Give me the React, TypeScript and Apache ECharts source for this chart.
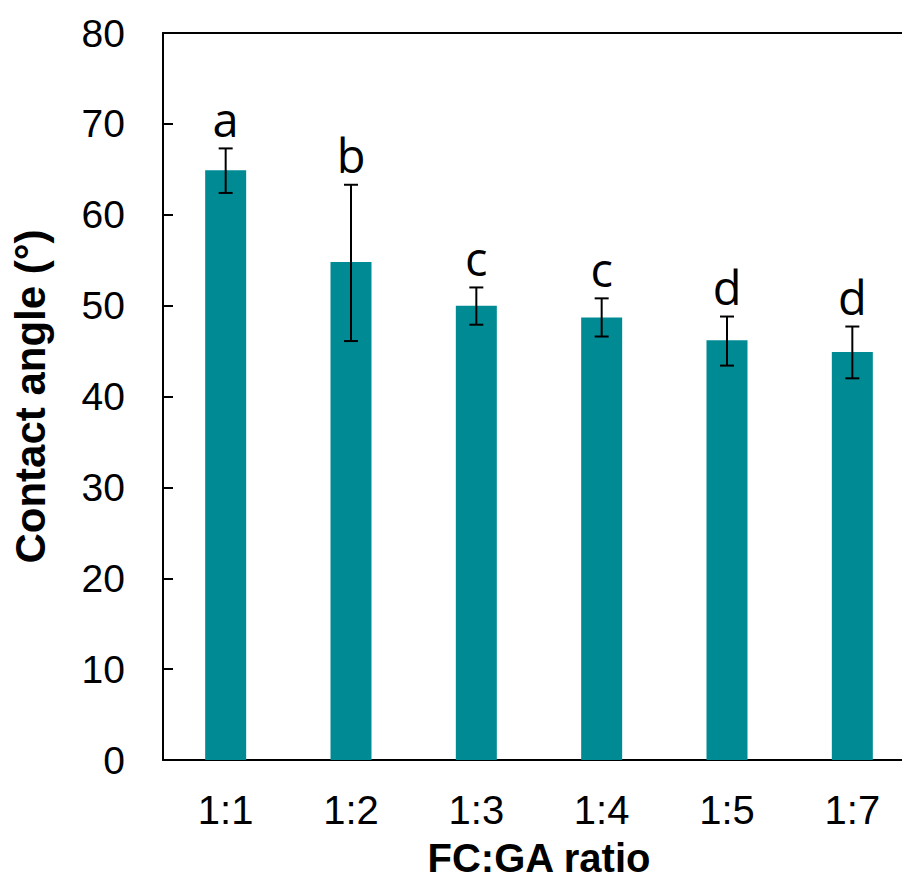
import React, { useEffect, useRef } from "react";
import * as echarts from "echarts";

const categories = ["1:1", "1:2", "1:3", "1:4", "1:5", "1:7"];
const means = [64.9, 54.8, 50.0, 48.7, 46.2, 44.9];
const errLow = [62.4, 46.1, 47.9, 46.6, 43.4, 42.0];
const errHigh = [67.3, 63.3, 52.0, 50.8, 48.8, 47.7];
const letters = ["a", "b", "c", "c", "d", "d"];
const yTicks = [0, 10, 20, 30, 40, 50, 60, 70, 80];

export default function App() {
  const ref = useRef<HTMLDivElement>(null);
  useEffect(() => {
    if (!ref.current) return;
    const chart = echarts.init(ref.current, null, { renderer: "svg" });
    const errData = categories.map((_, i) => [i, errLow[i], errHigh[i], letters[i]]);
    const axisLine = { show: true, lineStyle: { color: "#000", width: 2 } };
    chart.setOption({
      animation: false,
      backgroundColor: "#fff",
      grid: {
        left: 163,
        top: 33,
        right: -13,
        height: 727,
        show: false,
        containLabel: false,
        outerBoundsMode: "none",
      },
      xAxis: [
        {
          type: "category",
          data: categories,
          axisLine,
          axisTick: { show: false },
          axisLabel: {
            fontFamily: "Liberation Sans",
            fontSize: 40,
            color: "#000",
            margin: 30,
          },
          name: "FC:GA ratio",
          nameLocation: "middle",
          nameGap: 80,
          nameTextStyle: {
            fontFamily: "Liberation Sans",
            fontWeight: "bold",
            fontSize: 40,
            lineHeight: 36,
            color: "#000",
          },
        },
        {
          type: "category",
          data: categories,
          position: "top",
          axisLine,
          axisTick: { show: false },
          axisLabel: { show: false },
        },
      ],
      yAxis: {
        type: "value",
        min: 0,
        max: 80,
        interval: 10,
        splitLine: { show: false },
        axisLine,
        axisTick: { show: true, inside: true, length: 10, lineStyle: { color: "#000", width: 2 } },
        axisLabel: {
          fontFamily: "Liberation Sans",
          fontSize: 39,
          color: "#000",
          margin: 38,
          formatter: (v: number) => (yTicks.includes(v) ? String(v) : ""),
        },
        name: "Contact angle (°)",
        nameLocation: "middle",
        nameGap: 112,
        nameTextStyle: {
          fontFamily: "Liberation Sans",
          fontWeight: "bold",
          fontSize: 42,
          color: "#000",
        },
      },
      series: [
        {
          type: "bar",
          data: means,
          barWidth: 41,
          itemStyle: { color: "#008B94" },
        },
        {
          type: "custom",
          data: errData,
          renderItem: (params: any, api: any) => {
            const idx = api.value(0);
            const lo = api.coord([idx, api.value(1)]);
            const hi = api.coord([idx, api.value(2)]);
            const letter = letters[params.dataIndex];
            const cap = 7;
            const ls = { stroke: "#000", lineWidth: 2 };
            return {
              type: "group",
              children: [
                { type: "line", shape: { x1: hi[0], y1: hi[1], x2: lo[0], y2: lo[1] }, style: ls },
                { type: "line", shape: { x1: hi[0] - cap, y1: hi[1], x2: hi[0] + cap, y2: hi[1] }, style: ls },
                { type: "line", shape: { x1: lo[0] - cap, y1: lo[1], x2: lo[0] + cap, y2: lo[1] }, style: ls },
                {
                  type: "text",
                  x: hi[0],
                  y: hi[1] - 6,
                  style: {
                    text: letter,
                    fontFamily: "Open Sans",
                    fontSize: 47,
                    fill: "#000",
                    align: "center",
                    verticalAlign: "bottom",
                  },
                },
              ],
            };
          },
          z: 5,
        },
      ],
    });
    return () => chart.dispose();
  }, []);
  return (
    <div
      ref={ref}
      style={{ position: "fixed", left: 0, top: 0, width: 902, height: 881, background: "#fff" }}
    />
  );
}
